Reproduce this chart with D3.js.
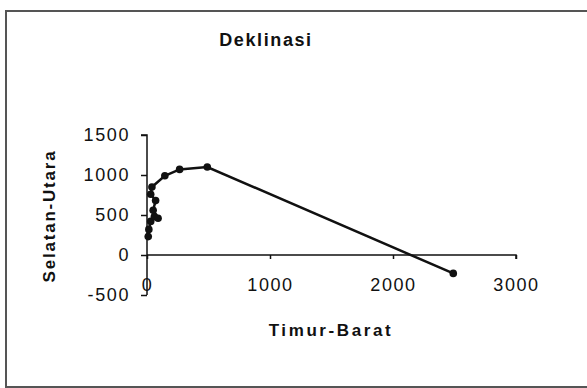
<!DOCTYPE html>
<html>
<head>
<meta charset="utf-8">
<script src="https://cdn.jsdelivr.net/npm/d3@7"></script>
<style>
  html, body { margin: 0; padding: 0; background: #fff; }
  svg { display: block; }
  text { font-family: "Liberation Sans", Arial, sans-serif; fill: #111; }
</style>
</head>
<body>
<svg id="chart" width="587" height="388"></svg>
<script>
  // Timur-Barat (x) and Selatan-Utara (y) per point
  var timurBarat = [10, 15, 30, 60, 90, 50, 70, 30, 40, 145, 265, 490, 2490];
  var selatanUtara = [230, 320, 420, 480, 460, 560, 680, 760, 850, 990, 1070, 1100, -230];
  var xTicks = [0, 1000, 2000, 3000];
  var yTicks = [-500, 0, 500, 1000, 1500];

  var svg = d3.select('#chart');

  // frame of the chart area
  svg.append('rect')
    .attr('x', 6).attr('y', 11)
    .attr('width', 600).attr('height', 376)
    .attr('fill', '#fff')
    .attr('stroke', '#555')
    .attr('stroke-width', 2);

  var x = d3.scaleLinear().domain([0, 3000]).range([147, 516]);
  var y = d3.scaleLinear().domain([-500, 1500]).range([295, 135]);

  // plain hyphen for negatives, as in the original
  var fmt = function (d) { return String(d); };

  // y axis
  var yAxis = svg.append('g')
    .attr('transform', 'translate(' + x(0) + ',0)')
    .call(d3.axisLeft(y).tickValues(yTicks).tickSize(6).tickPadding(11).tickFormat(fmt));
  yAxis.selectAll('text')
    .style('font-size', '18px')
    .style('letter-spacing', '1.6px')
    .attr('fill', '#1a1a1a');

  // x axis sits on y = 0, labels lower down like in Excel
  var xAxis = svg.append('g')
    .attr('transform', 'translate(0,' + y(0) + ')')
    .call(d3.axisBottom(x).tickValues(xTicks).tickSize(4).tickPadding(19).tickFormat(fmt));
  xAxis.selectAll('text')
    .style('font-size', '18px')
    .style('letter-spacing', '1.6px')
    .attr('fill', '#1a1a1a');

  svg.selectAll('.domain').attr('stroke', '#111').attr('stroke-width', 1.5);
  svg.selectAll('.tick line').attr('stroke', '#111').attr('stroke-width', 1.5);
  xAxis.select('.domain').attr('d', 'M' + x(0) + ',0H' + x(3000) + 'V4');
  yAxis.select('.domain').attr('d', 'M-6,' + y(1500) + 'H0V' + y(-500));

  var points = timurBarat.map(function (d, i) { return [d, selatanUtara[i]]; });

  var line = d3.line()
    .x(function (d) { return x(d[0]); })
    .y(function (d) { return y(d[1]); });

  svg.append('path')
    .datum(points)
    .attr('fill', 'none')
    .attr('stroke', '#111')
    .attr('stroke-width', 2.5)
    .attr('d', line);

  svg.append('g')
    .selectAll('circle')
    .data(points)
    .join('circle')
    .attr('cx', function (d) { return x(d[0]); })
    .attr('cy', function (d) { return y(d[1]); })
    .attr('r', 3.8)
    .attr('fill', '#111');

  // titles
  svg.append('text')
    .attr('x', 266).attr('y', 46)
    .attr('text-anchor', 'middle')
    .style('font-size', '18px')
    .style('font-weight', 'bold')
    .style('letter-spacing', '1.6px')
    .text('Deklinasi');

  svg.append('text')
    .attr('x', 331).attr('y', 336)
    .attr('text-anchor', 'middle')
    .style('font-size', '17px')
    .style('font-weight', 'bold')
    .style('letter-spacing', '2.6px')
    .text('Timur-Barat');

  svg.append('text')
    .attr('transform', 'translate(55,216) rotate(-90)')
    .attr('text-anchor', 'middle')
    .style('font-size', '17px')
    .style('font-weight', 'bold')
    .style('letter-spacing', '1.8px')
    .text('Selatan-Utara');
</script>
</body>
</html>
